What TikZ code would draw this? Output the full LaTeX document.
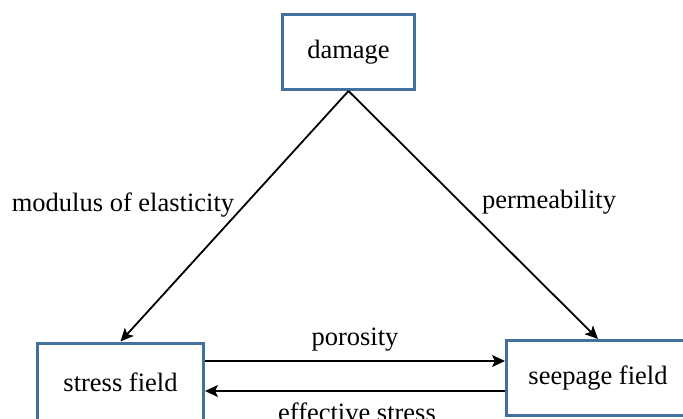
\documentclass[tikz,border=0pt]{standalone}
\usepackage{fontspec}
\setmainfont{Liberation Serif}
\newfontfamily\diagfont{Liberation Serif}
\usetikzlibrary{arrows.meta}
\definecolor{boxblue}{RGB}{65,113,156}
\begin{document}
\begin{tikzpicture}[x=1pt,y=-1pt,
  box/.style={draw=boxblue, line width=3pt, fill=white, inner sep=0pt, font=\diagfont\fontsize{26.5}{30}\selectfont},
  lbl/.style={inner sep=0pt, font=\diagfont\fontsize{26.5}{30}\selectfont},
  conn/.style={line width=1.8pt, -{Stealth[length=13pt,width=12pt,inset=3pt]}}]
\useasboundingbox (0,0) rectangle (683,418);
\node[box, minimum width=132pt, minimum height=75pt] (dmg) at (348.5,52) {damage};
\node[box, minimum width=166pt, minimum height=78pt] (sf) at (120.5,382) {stress field};
\node[box, minimum width=183pt, minimum height=75pt] (sp) at (598,378) {seepage field};
\draw[conn] (dmg.south) -- (sf.north);
\draw[conn] (dmg.south) -- (sp.north);
\draw[conn] (sf.east |- 0,361) -- (sp.west |- 0,361);
\draw[conn] (sp.west |- 0,391) -- (sf.east |- 0,391);
\node[lbl] (l1) at (123,205) {modulus of elasticity};
\node[lbl] (l2) at (549,202) {permeability};
\node[lbl] (l3) at (355,340) {porosity};
\node[lbl] (l4) at (357,412) {effective stress};
\end{tikzpicture}
\end{document}
